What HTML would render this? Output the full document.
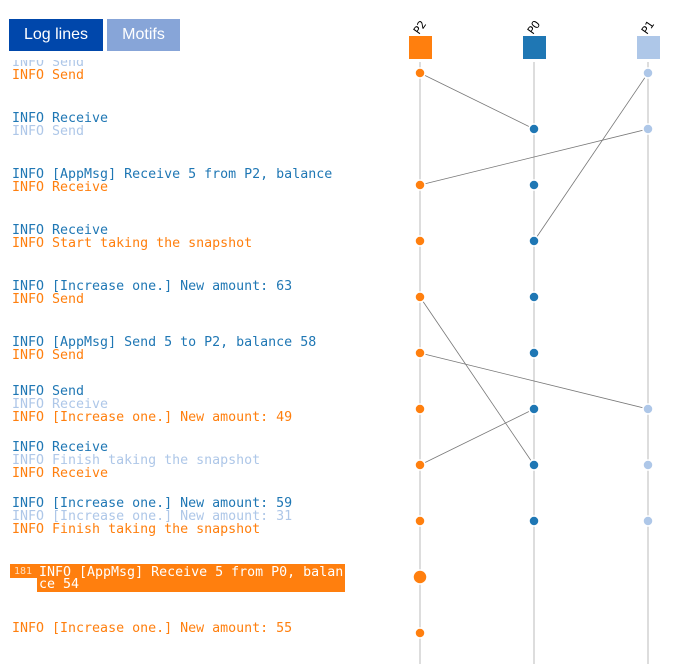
<!DOCTYPE html>
<html><head><meta charset="utf-8"><style>
body{margin:0;width:695px;height:664px;overflow:hidden;background:#fff;position:relative;font-family:"DejaVu Sans Mono","Liberation Mono",monospace}
.btn{position:absolute;top:19px;height:32px;line-height:32px;color:#fff;font-family:"Liberation Sans",sans-serif;font-size:16px;text-align:center;z-index:2}
.t{position:absolute;left:12px;font-size:13.3px;line-height:14px;white-space:pre}
.b{color:#1f77b4}.f{color:#aec7e8}.o{color:#ff7f0e}
svg{position:absolute;left:0;top:0}
</style></head><body>
<div class="btn" style="left:9px;width:94px;background:#0047ab">Log lines</div>
<div class="btn" style="left:107px;width:73px;background:#87a5d8">Motifs</div>

<div class="t f" style="top:56px">INFO Send</div>
<div style="position:absolute;left:0;top:0;width:360px;height:60px;background:#fff;z-index:1"></div>
<div class="t o" style="top:69px">INFO Send</div>
<div class="t b" style="top:112px">INFO Receive</div>
<div class="t f" style="top:125px">INFO Send</div>
<div class="t b" style="top:168px">INFO [AppMsg] Receive 5 from P2, balance</div>
<div class="t o" style="top:181px">INFO Receive</div>
<div class="t b" style="top:224px">INFO Receive</div>
<div class="t o" style="top:237px">INFO Start taking the snapshot</div>
<div class="t b" style="top:280px">INFO [Increase one.] New amount: 63</div>
<div class="t o" style="top:293px">INFO Send</div>
<div class="t b" style="top:336px">INFO [AppMsg] Send 5 to P2, balance 58</div>
<div class="t o" style="top:349px">INFO Send</div>
<div class="t b" style="top:385px">INFO Send</div>
<div class="t f" style="top:398px">INFO Receive</div>
<div class="t o" style="top:411px">INFO [Increase one.] New amount: 49</div>
<div class="t b" style="top:441px">INFO Receive</div>
<div class="t f" style="top:454px">INFO Finish taking the snapshot</div>
<div class="t o" style="top:467px">INFO Receive</div>
<div class="t b" style="top:497px">INFO [Increase one.] New amount: 59</div>
<div class="t f" style="top:510px">INFO [Increase one.] New amount: 31</div>
<div class="t o" style="top:523px">INFO Finish taking the snapshot</div>
<div style="position:absolute;left:10px;top:564px;width:335px;height:14px;background:#ff7f0e"></div>
<div style="position:absolute;left:37px;top:577px;width:308px;height:15px;background:#ff7f0e"></div>
<div class="t" style="top:565px;left:14px;font-size:10px;color:#ffe0c0">181</div>
<div class="t" style="top:566px;left:39px;color:#fff">INFO [AppMsg] Receive 5 from P0, balan</div>
<div class="t" style="top:578px;left:39px;color:#fff">ce 54</div>
<div class="t o" style="top:622px">INFO [Increase one.] New amount: 55</div>

<svg width="695" height="664">
<line x1="420" y1="62" x2="420" y2="664" stroke="#ddd" stroke-width="2"/>
<line x1="534" y1="62" x2="534" y2="664" stroke="#bbb" stroke-width="1"/>
<line x1="648" y1="62" x2="648" y2="664" stroke="#ddd" stroke-width="2"/>
<rect x="409" y="36" width="23" height="23" fill="#ff7f0e"/>
<rect x="523" y="36" width="23" height="23" fill="#1f77b4"/>
<rect x="637" y="36" width="23" height="23" fill="#aec7e8"/>
<g font-family="DejaVu Sans" font-size="11" fill="#000">
<text transform="translate(419,35) rotate(-55)">P2</text>
<text transform="translate(533,35) rotate(-55)">P0</text>
<text transform="translate(647,35) rotate(-55)">P1</text>
</g>
<g stroke="#777" stroke-width="0.8">
<line x1="420" y1="73" x2="534" y2="129"/>
<line x1="648" y1="73" x2="534" y2="241"/>
<line x1="648" y1="129" x2="420" y2="185"/>
<line x1="420" y1="297" x2="534" y2="465"/>
<line x1="420" y1="353" x2="648" y2="409"/>
<line x1="534" y1="409" x2="420" y2="465"/>
</g>
<g stroke="#fff" stroke-width="1.5">
<g fill="#ff7f0e">
<circle cx="420" cy="73" r="5"/><circle cx="420" cy="185" r="5"/><circle cx="420" cy="241" r="5"/><circle cx="420" cy="297" r="5"/><circle cx="420" cy="353" r="5"/><circle cx="420" cy="409" r="5"/><circle cx="420" cy="465" r="5"/><circle cx="420" cy="521" r="5"/><circle cx="420" cy="577" r="7"/><circle cx="420" cy="633" r="5"/>
</g>
<g fill="#1f77b4">
<circle cx="534" cy="129" r="5"/><circle cx="534" cy="185" r="5"/><circle cx="534" cy="241" r="5"/><circle cx="534" cy="297" r="5"/><circle cx="534" cy="353" r="5"/><circle cx="534" cy="409" r="5"/><circle cx="534" cy="465" r="5"/><circle cx="534" cy="521" r="5"/>
</g>
<g fill="#aec7e8">
<circle cx="648" cy="73" r="5"/><circle cx="648" cy="129" r="5"/><circle cx="648" cy="409" r="5"/><circle cx="648" cy="465" r="5"/><circle cx="648" cy="521" r="5"/>
</g>
</g>
</svg>
</body></html>
